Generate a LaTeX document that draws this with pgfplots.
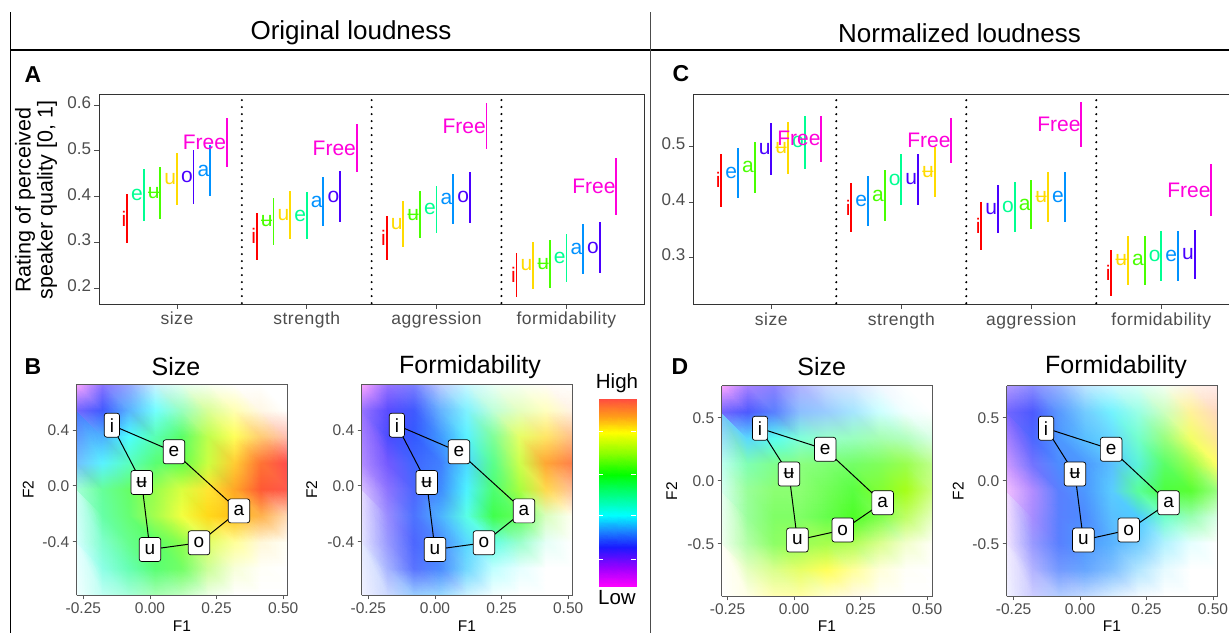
\documentclass[border=0pt]{standalone}
\usepackage{fontspec}
\setmainfont{Liberation Sans}
\newfontfamily\spaced[LetterSpace=3]{Liberation Sans}
\usepackage{pgfplots}
\pgfplotsset{compat=1.18}
\definecolor{cR}{HTML}{FF0000}
\definecolor{cY}{HTML}{FFDB00}
\definecolor{cG}{HTML}{49FF00}
\definecolor{cS}{HTML}{00FF92}
\definecolor{cA}{HTML}{0092FF}
\definecolor{cV}{HTML}{4900FF}
\definecolor{cM}{HTML}{FF00DB}
\definecolor{tg}{HTML}{4D4D4D}
\newcommand{\fs}[1]{\fontsize{#1}{#1}\selectfont}
\pgfplotsset{
  vow/.style 2 args={only marks, mark=none, color=#1,
    error bars/y dir=both, error bars/y explicit, error bars/error mark=none,
    error bars/error bar style={line width=1.8pt, color=#1},
    nodes near coords={#2},
    nodes near coords style={anchor=east, inner sep=0.6pt, font=\fs{21}, text=#1}},
  errpanel/.style={scale only axis, xmin=0.4, xmax=4.6, xtick={1,2,3,4},
    xticklabels={size,strength,aggression,formidability},
    tick pos=left, tick align=outside, major tick length=4.5pt,
    tick style={tg, line width=0.8pt},
    axis line style={draw=black!80, line width=0.8pt},
    xticklabel style={font=\spaced\fs{17.5}, text=tg},
    yticklabel style={font=\fs{17}, text=tg},
    typeset ticklabels with strut, clip=false},
  sep/.style={black, line width=2.3pt, line cap=round, dash pattern=on 0pt off 7pt},
  heat/.style={scale only axis, width=211pt, height=211pt, view={0}{90}, axis on top,
    zmin=-1, zmax=1, clip=true,
    xtick={-0.25,0,0.25,0.5}, xticklabels={-0.25,0.00,0.25,0.50}, ztick=\empty,
    tick pos=left, tick align=outside, major tick length=4pt,
    tick style={gray!70!black, line width=0.8pt},
    axis line style={draw=gray!70!black, line width=0.8pt},
    ticklabel style={font=\fs{15.5}, text=tg}},
  hm/.style={surf, shader=interp, mesh/cols=9, mesh/color input=explicit, point meta=explicit symbolic},
  lab/.style={only marks, mark=none, point meta=explicit symbolic, nodes near coords,
    nodes near coords style={anchor=center, fill=white, draw=black, rounded corners=2.5pt,
      line width=0.7pt, minimum height=24pt, inner xsep=5.5pt, inner ysep=2pt, font=\fs{19}, text=black}},
  poly/.style={black, line width=1pt, mark=none},
}
\begin{document}
\begin{tikzpicture}
\path[use as bounding box] (0,0) rectangle (1229pt,-633pt);
\fill[white] (0,0) rectangle (1229pt,-633pt);
\draw[black, line width=1pt] (10.3pt,-12pt) -- (10.3pt,-633pt);
\draw[black, line width=1.2pt] (10.3pt,-50pt) -- (1229pt,-50pt);
\draw[black!70, line width=1.5pt] (650.7pt,-12pt) -- (650.7pt,-633pt);
\node[font=\fs{26}] at (351pt,-33pt) {Original loudness};
\node[font=\fs{26}] at (959.5pt,-33pt) {Normalized loudness};
\node[font=\bfseries\fs{23}] at (33pt,-75pt) {A};
\node[font=\bfseries\fs{23}] at (681pt,-74pt) {C};
\node[font=\bfseries\fs{23}] at (33pt,-367pt) {B};
\node[font=\bfseries\fs{23}] at (680pt,-367pt) {D};
\node[rotate=90, align=center, font=\fontsize{21.5}{22}\selectfont] at (36pt,-200pt) {Rating of perceived\\speaker quality [0, 1]};

% ---------------- Panel A
\begin{axis}[errpanel, at={(99pt,-304pt)}, anchor=south west, width=545.3pt, height=210pt,
  ymin=0.166, ymax=0.624, ytick={0.2,0.3,0.4,0.5,0.6}, yticklabels={0.2,0.3,0.4,0.5,0.6}]
\addplot[sep] coordinates {(1.5,0.168) (1.5,0.624)};
\addplot[sep] coordinates {(2.5,0.168) (2.5,0.624)};
\addplot[sep] coordinates {(3.5,0.168) (3.5,0.624)};
\addplot[vow={cR}{i}] coordinates {(0.6154,0.352) +- (0,0.053) (1.6154,0.314) +- (0,0.051) (2.6154,0.3105) +- (0,0.0485) (3.6154,0.2295) +- (0,0.0485)};
\addplot[vow={cS}{e}] coordinates {(0.7436,0.404) +- (0,0.056) (2.0,0.359) +- (0,0.052) (3.0,0.3725) +- (0,0.0515) (4.0,0.2655) +- (0,0.0525)};
\addplot[vow={cG}{ʉ}] coordinates {(0.8718,0.4075) +- (0,0.0565) (1.7436,0.346) +- (0,0.052) (2.8718,0.361) +- (0,0.052) (3.8718,0.2525) +- (0,0.0525)};
\addplot[vow={cY}{u}] coordinates {(1.0,0.4395) +- (0,0.0565) (1.8718,0.3595) +- (0,0.0525) (2.7436,0.341) +- (0,0.05) (3.7436,0.25) +- (0,0.052)};
\addplot[vow={cV}{o}] coordinates {(1.1282,0.4435) +- (0,0.0585) (2.2564,0.40) +- (0,0.056) (3.2564,0.3985) +- (0,0.0555) (4.2564,0.289) +- (0,0.056)};
\addplot[vow={cA}{a}] coordinates {(1.2564,0.457) +- (0,0.056) (2.1282,0.3895) +- (0,0.0535) (3.1282,0.3955) +- (0,0.0545) (4.1282,0.2855) +- (0,0.0545)};
\addplot[vow={cM}{Free}] coordinates {(1.3846,0.518) +- (0,0.053) (2.3846,0.506) +- (0,0.053) (3.3846,0.554) +- (0,0.051) (4.3846,0.422) +- (0,0.062)};
\end{axis}

% ---------------- Panel C
\begin{axis}[errpanel, at={(693.3pt,-304.3pt)}, anchor=south west, width=546pt, height=210.3pt,
  ymin=0.215, ymax=0.595, ytick={0.3,0.4,0.5}, yticklabels={0.3,0.4,0.5}]
\addplot[sep] coordinates {(1.5,0.217) (1.5,0.595)};
\addplot[sep] coordinates {(2.5,0.217) (2.5,0.595)};
\addplot[sep] coordinates {(3.5,0.217) (3.5,0.595)};
\addplot[vow={cR}{i}] coordinates {(0.6154,0.439) +- (0,0.048) (1.6154,0.3895) +- (0,0.0445) (2.6154,0.356) +- (0,0.043) (3.6154,0.272) +- (0,0.042)};
\addplot[vow={cA}{e}] coordinates {(0.7436,0.4525) +- (0,0.0455) (1.7436,0.4015) +- (0,0.0445) (3.2564,0.409) +- (0,0.045) (4.1282,0.3025) +- (0,0.0455)};
\addplot[vow={cG}{a}] coordinates {(0.8718,0.4625) +- (0,0.0465) (1.8718,0.4115) +- (0,0.0455) (3.0,0.395) +- (0,0.044) (3.8718,0.2945) +- (0,0.0445)};
\addplot[vow={cV}{u}] coordinates {(1.0,0.495) +- (0,0.047) (2.1282,0.441) +- (0,0.046) (2.7436,0.387) +- (0,0.044) (4.2564,0.305) +- (0,0.045)};
\addplot[vow={cY}{ʉ}] coordinates {(1.1282,0.498) +- (0,0.047) (2.2564,0.4535) +- (0,0.0455) (3.1282,0.4085) +- (0,0.0455) (3.7436,0.2945) +- (0,0.0445)};
\addplot[vow={cS}{o}] coordinates {(1.2564,0.508) +- (0,0.048) (2.0,0.4405) +- (0,0.0455) (2.8718,0.391) +- (0,0.045) (4.0,0.302) +- (0,0.045)};
\addplot[vow={cM}{Free}] coordinates {(1.3846,0.5145) +- (0,0.0415) (2.3846,0.5105) +- (0,0.0405) (3.3846,0.5395) +- (0,0.0405) (4.3846,0.4215) +- (0,0.0465)};
\end{axis}

% ---------------- titles and axis names of the maps
\node[font=\fs{25}] at (176pt,-367pt) {Size};
\node[font=\fs{25}] at (470pt,-367pt) {Formidability};
\node[font=\fs{25}] at (821.7pt,-367pt) {Size};
\node[font=\fs{25}] at (1116pt,-367pt) {Formidability};
\node[font=\fs{15.5}, rotate=90] at (28.3pt,-489.5pt) {F2};
\node[font=\fs{15.5}, rotate=90] at (311.7pt,-489.5pt) {F2};
\node[font=\fs{15.5}, rotate=90] at (671.7pt,-491pt) {F2};
\node[font=\fs{15.5}, rotate=90] at (958.3pt,-491pt) {F2};
\node[font=\fs{15.5}] at (182pt,-626pt) {F1};
\node[font=\fs{15.5}] at (467pt,-626pt) {F1};
\node[font=\fs{15.5}] at (827pt,-626pt) {F1};
\node[font=\fs{15.5}] at (1112pt,-626pt) {F1};

% ---------------- Panel B: Size  (grid rows from top; first and last rows repeated outside the frame)
\begin{axis}[heat, at={(76.7pt,-595pt)}, anchor=south west, xmin=-0.275, xmax=0.517, ymin=-0.782, ymax=0.73,
  ytick={-0.4,0,0.4}, yticklabels={-0.4,0.0,0.4}]
\addplot3[hm] table[x expr={-0.275+mod(\coordindex,9)*0.099}, y expr={0.919-floor(\coordindex/9)*0.189}, z expr=0, meta=c] {
c
rgb=1,0.65,1
rgb=0.55,0.45,1
rgb=0.6,0.65,1
rgb=0.8,0.95,1
rgb=0.9,1,0.95
rgb=0.97,1,0.95
rgb=1,1,1
rgb=1,1,1
rgb=1,1,1
rgb=1,0.65,1
rgb=0.55,0.45,1
rgb=0.6,0.65,1
rgb=0.8,0.95,1
rgb=0.9,1,0.95
rgb=0.97,1,0.95
rgb=1,1,1
rgb=1,1,1
rgb=1,1,1
rgb=0.45,0.4,1
rgb=0.25,0.35,1
rgb=0.35,0.7,1
rgb=0.45,1,1
rgb=0.6,1,0.75
rgb=0.85,1,0.6
rgb=1,1,0.7
rgb=1,0.97,0.9
rgb=1,1,1
rgb=0.3,0.45,1
rgb=0.3,0.7,1
rgb=0.3,1,1
rgb=0.35,1,0.7
rgb=0.35,1,0.4
rgb=0.75,1,0.3
rgb=1,1,0.35
rgb=1,0.8,0.45
rgb=1,0.75,0.7
rgb=0.45,0.75,1
rgb=0.35,0.95,1
rgb=0.35,1,0.75
rgb=0.35,1,0.45
rgb=0.4,1,0.3
rgb=0.8,1,0.25
rgb=1,0.8,0.2
rgb=1,0.45,0.2
rgb=1,0.3,0.3
rgb=0.65,1,0.85
rgb=0.4,1,0.6
rgb=0.4,1,0.4
rgb=0.6,1,0.3
rgb=0.85,1,0.25
rgb=1,0.9,0.2
rgb=1,0.65,0.15
rgb=1,0.35,0.2
rgb=1,0.35,0.3
rgb=0.8,1,0.95
rgb=0.4,1,0.65
rgb=0.4,1,0.45
rgb=0.65,1,0.3
rgb=0.95,1,0.25
rgb=1,0.85,0.1
rgb=1,0.75,0.1
rgb=1,0.7,0.3
rgb=1,0.85,0.7
rgb=0.85,1,1
rgb=0.5,1,0.8
rgb=0.4,1,0.55
rgb=0.35,1,0.4
rgb=0.55,1,0.3
rgb=0.88,1,0.4
rgb=1,1,0.6
rgb=1,0.97,0.85
rgb=1,1,0.97
rgb=0.9,1,1
rgb=0.55,1,0.9
rgb=0.4,1,0.7
rgb=0.35,1,0.45
rgb=0.45,1,0.4
rgb=0.8,1,0.6
rgb=0.97,1,0.85
rgb=1,1,0.97
rgb=1,1,1
rgb=0.95,1,1
rgb=0.75,1,0.95
rgb=0.65,1,0.85
rgb=0.65,1,0.7
rgb=0.75,1,0.75
rgb=0.93,1,0.9
rgb=1,1,1
rgb=1,1,1
rgb=1,1,1
rgb=0.95,1,1
rgb=0.75,1,0.95
rgb=0.65,1,0.85
rgb=0.65,1,0.7
rgb=0.75,1,0.75
rgb=0.93,1,0.9
rgb=1,1,1
rgb=1,1,1
rgb=1,1,1
};
\addplot3[poly] coordinates {(-0.143,0.435,0) (0.09,0.244,0) (0.334,-0.179,0) (0.184,-0.408,0) (0,-0.456,0) (-0.031,0.024,0) (-0.143,0.435,0)};
\addplot3[lab] coordinates {(-0.143,0.435,0) [i] (0.09,0.244,0) [e] (0.334,-0.179,0) [a] (0.184,-0.408,0) [o] (0,-0.456,0) [u] (-0.031,0.024,0) [ʉ]};
\end{axis}

% ---------------- Panel B: Formidability
\begin{axis}[heat, at={(361.7pt,-595pt)}, anchor=south west, xmin=-0.275, xmax=0.517, ymin=-0.782, ymax=0.73,
  ytick={-0.4,0,0.4}, yticklabels={-0.4,0.0,0.4}]
\addplot3[hm] table[x expr={-0.275+mod(\coordindex,9)*0.099}, y expr={0.919-floor(\coordindex/9)*0.189}, z expr=0, meta=c] {
c
rgb=1,0.65,1
rgb=0.6,0.45,1
rgb=0.5,0.5,1
rgb=0.75,0.8,1
rgb=0.8,0.97,1
rgb=0.92,1,0.97
rgb=0.97,1,0.95
rgb=1,0.99,0.97
rgb=1,1,1
rgb=1,0.65,1
rgb=0.6,0.45,1
rgb=0.5,0.5,1
rgb=0.75,0.8,1
rgb=0.8,0.97,1
rgb=0.92,1,0.97
rgb=0.97,1,0.95
rgb=1,0.99,0.97
rgb=1,1,1
rgb=0.6,0.45,1
rgb=0.35,0.3,1
rgb=0.25,0.35,1
rgb=0.4,0.7,1
rgb=0.5,0.95,1
rgb=0.75,1,0.85
rgb=0.9,1,0.75
rgb=1,1,0.75
rgb=1,0.95,0.9
rgb=0.6,0.45,1
rgb=0.3,0.3,1
rgb=0.2,0.35,1
rgb=0.25,0.6,1
rgb=0.35,0.95,1
rgb=0.5,1,0.6
rgb=0.9,1,0.4
rgb=1,0.9,0.4
rgb=1,0.75,0.55
rgb=0.7,0.55,1
rgb=0.45,0.35,1
rgb=0.25,0.4,1
rgb=0.25,0.5,1
rgb=0.3,0.85,1
rgb=0.35,1,0.55
rgb=0.8,1,0.3
rgb=1,0.65,0.2
rgb=1,0.5,0.3
rgb=0.85,0.75,1
rgb=0.55,0.45,1
rgb=0.3,0.4,1
rgb=0.25,0.55,1
rgb=0.3,0.95,1
rgb=0.3,1,0.45
rgb=0.65,1,0.25
rgb=1,0.85,0.3
rgb=1,0.75,0.6
rgb=0.9,0.85,1
rgb=0.6,0.55,1
rgb=0.3,0.45,1
rgb=0.3,0.7,1
rgb=0.35,1,0.9
rgb=0.25,1,0.3
rgb=0.4,1,0.35
rgb=0.85,1,0.75
rgb=1,1,0.95
rgb=0.9,0.9,1
rgb=0.6,0.6,1
rgb=0.3,0.4,1
rgb=0.3,0.55,1
rgb=0.35,0.85,1
rgb=0.4,1,0.9
rgb=0.6,1,0.8
rgb=0.9,1,0.97
rgb=1,1,1
rgb=0.9,0.92,1
rgb=0.65,0.7,1
rgb=0.35,0.45,1
rgb=0.3,0.55,1
rgb=0.45,0.85,1
rgb=0.75,1,1
rgb=0.9,1,1
rgb=1,1,1
rgb=1,1,1
rgb=0.95,0.95,1
rgb=0.8,0.85,1
rgb=0.6,0.8,1
rgb=0.6,0.85,1
rgb=0.8,0.95,1
rgb=0.95,1,1
rgb=1,1,1
rgb=1,1,1
rgb=1,1,1
rgb=0.95,0.95,1
rgb=0.8,0.85,1
rgb=0.6,0.8,1
rgb=0.6,0.85,1
rgb=0.8,0.95,1
rgb=0.95,1,1
rgb=1,1,1
rgb=1,1,1
rgb=1,1,1
};
\addplot3[poly] coordinates {(-0.143,0.435,0) (0.09,0.244,0) (0.334,-0.179,0) (0.184,-0.408,0) (0,-0.456,0) (-0.031,0.024,0) (-0.143,0.435,0)};
\addplot3[lab] coordinates {(-0.143,0.435,0) [i] (0.09,0.244,0) [e] (0.334,-0.179,0) [a] (0.184,-0.408,0) [o] (0,-0.456,0) [u] (-0.031,0.024,0) [ʉ]};
\end{axis}

% ---------------- Colour bar
\begin{axis}[at={(598.3pt,-586.7pt)}, anchor=south west, scale only axis, width=37.7pt, height=187.7pt,
  xmin=0, xmax=1, ymin=0, ymax=1, zmin=-1, zmax=1, view={0}{90}, axis on top, axis line style={draw=none},
  clip=true, xtick=\empty, ztick=\empty, ytick={0.146,0.378,0.6,0.826}, yticklabels={}, ytick pos=both, tick align=inside,
  major tick length=5pt, tick style={white, line width=0.9pt}]
\addplot3[surf, shader=interp, mesh/cols=2, mesh/color input=explicit, point meta=explicit symbolic] table[meta=c] {
x y z c
0 -0.1 0 rgb=1,0,1
1 -0.1 0 rgb=1,0,1
0 0 0 rgb=1,0,1
1 0 0 rgb=1,0,1
0 0.1 0 rgb=0.6,0,1
1 0.1 0 rgb=0.6,0,1
0 0.21 0 rgb=0.1,0.1,1
1 0.21 0 rgb=0.1,0.1,1
0 0.3 0 rgb=0.1,0.55,1
1 0.3 0 rgb=0.1,0.55,1
0 0.38 0 rgb=0,1,1
1 0.38 0 rgb=0,1,1
0 0.49 0 rgb=0,1,0.5
1 0.49 0 rgb=0,1,0.5
0 0.595 0 rgb=0,1,0
1 0.595 0 rgb=0,1,0
0 0.71 0 rgb=0.55,1,0
1 0.71 0 rgb=0.55,1,0
0 0.82 0 rgb=1,1,0
1 0.82 0 rgb=1,1,0
0 0.91 0 rgb=1,0.6,0.1
1 0.91 0 rgb=1,0.6,0.1
0 1 0 rgb=1,0.3,0.25
1 1 0 rgb=1,0.3,0.25
0 1.1 0 rgb=1,0.3,0.25
1 1.1 0 rgb=1,0.3,0.25
};
\end{axis}
\node[font=\fs{20.5}] at (617pt,-383pt) {High};
\node[font=\fs{20.5}] at (617pt,-598pt) {Low};

% ---------------- Panel D: Size
\begin{axis}[heat, at={(721.7pt,-596pt)}, anchor=south west, height=210.3pt, xmin=-0.272, xmax=0.521, ymin=-0.915, ymax=0.754,
  ytick={-0.5,0,0.5}, yticklabels={-0.5,0.0,0.5}]
\addplot3[hm] table[x expr={-0.272+mod(\coordindex,9)*0.0991}, y expr={0.9626-floor(\coordindex/9)*0.2086}, z expr=0, meta=c] {
c
rgb=1,0.65,1
rgb=0.65,0.5,1
rgb=0.55,0.5,1
rgb=0.7,0.7,1
rgb=0.8,0.85,1
rgb=0.85,0.9,1
rgb=0.95,0.97,1
rgb=1,1,1
rgb=1,1,1
rgb=1,0.65,1
rgb=0.65,0.5,1
rgb=0.55,0.5,1
rgb=0.7,0.7,1
rgb=0.8,0.85,1
rgb=0.85,0.9,1
rgb=0.95,0.97,1
rgb=1,1,1
rgb=1,1,1
rgb=0.45,0.4,1
rgb=0.3,0.35,1
rgb=0.35,0.5,1
rgb=0.55,0.75,1
rgb=0.6,0.8,1
rgb=0.65,0.9,1
rgb=0.8,1,1
rgb=0.95,1,1
rgb=1,1,1
rgb=0.45,0.75,1
rgb=0.35,0.85,1
rgb=0.35,1,0.95
rgb=0.5,1,0.85
rgb=0.6,1,0.8
rgb=0.6,1,0.75
rgb=0.65,1,0.7
rgb=0.7,1,0.75
rgb=0.85,1,0.9
rgb=0.75,1,0.95
rgb=0.5,1,0.7
rgb=0.5,1,0.55
rgb=0.55,1,0.5
rgb=0.5,1,0.45
rgb=0.45,1,0.4
rgb=0.5,1,0.35
rgb=0.6,1,0.3
rgb=0.75,1,0.55
rgb=0.85,1,0.95
rgb=0.6,1,0.6
rgb=0.55,1,0.45
rgb=0.55,1,0.45
rgb=0.45,1,0.35
rgb=0.35,1,0.25
rgb=0.5,1,0.2
rgb=0.65,1,0.1
rgb=0.8,1,0.5
rgb=0.9,1,0.95
rgb=0.6,1,0.6
rgb=0.5,1,0.4
rgb=0.5,1,0.4
rgb=0.4,1,0.3
rgb=0.3,1,0.15
rgb=0.5,1,0.3
rgb=0.75,1,0.4
rgb=0.9,1,0.75
rgb=0.95,1,0.95
rgb=0.7,1,0.65
rgb=0.55,1,0.4
rgb=0.6,1,0.35
rgb=0.65,1,0.3
rgb=0.7,1,0.35
rgb=0.85,1,0.55
rgb=0.95,1,0.8
rgb=1,1,0.97
rgb=1,1,0.97
rgb=0.9,1,0.75
rgb=0.85,1,0.55
rgb=0.9,1,0.4
rgb=1,1,0.35
rgb=1,1,0.6
rgb=1,1,0.85
rgb=1,1,0.97
rgb=1,1,1
rgb=1,1,1
rgb=1,1,0.9
rgb=1,1,0.7
rgb=1,1,0.65
rgb=1,1,0.8
rgb=1,0.98,0.9
rgb=1,1,0.97
rgb=1,1,1
rgb=1,1,1
rgb=1,1,1
rgb=1,1,0.9
rgb=1,1,0.7
rgb=1,1,0.65
rgb=1,1,0.8
rgb=1,0.98,0.9
rgb=1,1,0.97
rgb=1,1,1
rgb=1,1,1
};
\addplot3[poly] coordinates {(-0.128,0.416,0) (0.117,0.249,0) (0.333,-0.175,0) (0.183,-0.391,0) (0.0125,-0.471,0) (-0.019,0.053,0) (-0.128,0.416,0)};
\addplot3[lab] coordinates {(-0.128,0.416,0) [i] (0.117,0.249,0) [e] (0.333,-0.175,0) [a] (0.183,-0.391,0) [o] (0.0125,-0.471,0) [u] (-0.019,0.053,0) [ʉ]};
\end{axis}

% ---------------- Panel D: Formidability
\begin{axis}[heat, at={(1006.7pt,-596pt)}, anchor=south west, height=210.3pt, xmin=-0.276, xmax=0.518, ymin=-0.915, ymax=0.754,
  ytick={-0.5,0,0.5}, yticklabels={-0.5,0.0,0.5}]
\addplot3[hm] table[x expr={-0.276+mod(\coordindex,9)*0.09925}, y expr={0.9626-floor(\coordindex/9)*0.2086}, z expr=0, meta=c] {
c
rgb=0.7,0.6,1
rgb=0.55,0.55,1
rgb=0.6,0.7,1
rgb=0.75,0.9,1
rgb=0.8,0.97,1
rgb=0.85,1,0.97
rgb=0.95,1,0.95
rgb=1,0.95,0.9
rgb=1,0.92,0.92
rgb=0.7,0.6,1
rgb=0.55,0.55,1
rgb=0.6,0.7,1
rgb=0.75,0.9,1
rgb=0.8,0.97,1
rgb=0.85,1,0.97
rgb=0.95,1,0.95
rgb=1,0.95,0.9
rgb=1,0.92,0.92
rgb=0.45,0.4,1
rgb=0.3,0.35,1
rgb=0.35,0.6,1
rgb=0.45,0.8,1
rgb=0.45,0.95,1
rgb=0.6,1,0.9
rgb=0.8,1,0.75
rgb=1,0.95,0.6
rgb=1,0.85,0.75
rgb=0.5,0.4,1
rgb=0.3,0.4,1
rgb=0.3,0.6,1
rgb=0.35,0.75,1
rgb=0.4,0.85,1
rgb=0.45,1,0.8
rgb=0.6,1,0.5
rgb=0.95,1,0.4
rgb=1,0.9,0.6
rgb=0.8,0.6,1
rgb=0.45,0.45,1
rgb=0.3,0.55,1
rgb=0.3,0.6,1
rgb=0.35,0.75,1
rgb=0.35,0.95,0.85
rgb=0.35,1,0.4
rgb=0.6,1,0.3
rgb=1,1,0.4
rgb=0.95,0.75,1
rgb=0.7,0.55,1
rgb=0.35,0.5,1
rgb=0.3,0.6,1
rgb=0.35,0.8,1
rgb=0.35,1,0.6
rgb=0.3,1,0.25
rgb=0.35,1,0.2
rgb=0.6,1,0.5
rgb=0.95,0.85,1
rgb=0.65,0.55,1
rgb=0.35,0.5,1
rgb=0.3,0.55,1
rgb=0.35,0.75,1
rgb=0.3,0.8,1
rgb=0.45,1,0.8
rgb=0.6,1,0.7
rgb=0.85,1,0.9
rgb=0.95,0.9,1
rgb=0.6,0.6,1
rgb=0.35,0.5,1
rgb=0.3,0.6,1
rgb=0.35,0.7,1
rgb=0.45,0.8,1
rgb=0.7,0.95,1
rgb=0.9,1,1
rgb=1,1,1
rgb=0.95,0.92,1
rgb=0.7,0.7,1
rgb=0.45,0.6,1
rgb=0.4,0.65,1
rgb=0.5,0.75,1
rgb=0.7,0.9,1
rgb=0.9,0.98,1
rgb=1,1,1
rgb=1,1,1
rgb=0.95,0.95,1
rgb=0.8,0.8,1
rgb=0.7,0.8,1
rgb=0.75,0.85,1
rgb=0.85,0.93,1
rgb=0.95,0.98,1
rgb=1,1,1
rgb=1,1,1
rgb=1,1,1
rgb=0.95,0.95,1
rgb=0.8,0.8,1
rgb=0.7,0.8,1
rgb=0.75,0.85,1
rgb=0.85,0.93,1
rgb=0.95,0.98,1
rgb=1,1,1
rgb=1,1,1
rgb=1,1,1
};
\addplot3[poly] coordinates {(-0.128,0.416,0) (0.117,0.249,0) (0.333,-0.175,0) (0.183,-0.391,0) (0.0125,-0.471,0) (-0.019,0.053,0) (-0.128,0.416,0)};
\addplot3[lab] coordinates {(-0.128,0.416,0) [i] (0.117,0.249,0) [e] (0.333,-0.175,0) [a] (0.183,-0.391,0) [o] (0.0125,-0.471,0) [u] (-0.019,0.053,0) [ʉ]};
\end{axis}
\end{tikzpicture}
\end{document}
